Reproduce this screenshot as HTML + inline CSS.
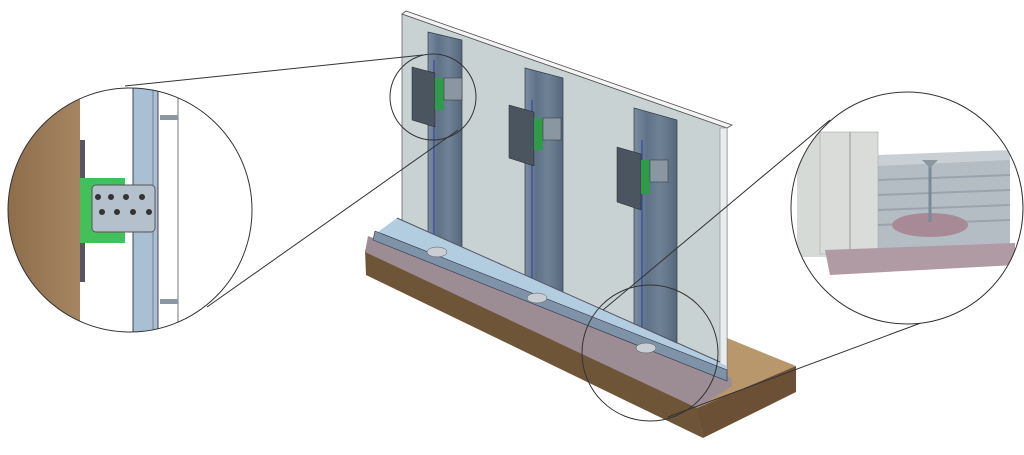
<!DOCTYPE html>
<html><head><meta charset="utf-8"><style>
html,body{margin:0;padding:0;background:#fff;width:1024px;height:455px;overflow:hidden}
</style></head><body>
<svg width="1024" height="455" viewBox="0 0 1024 455" xmlns="http://www.w3.org/2000/svg">
<defs>
<linearGradient id="wood" x1="0" y1="0" x2="1" y2="0"><stop offset="0" stop-color="#8a6a48"/><stop offset="1" stop-color="#a58562"/></linearGradient>
<linearGradient id="stud" x1="0" y1="0" x2="1" y2="0"><stop offset="0" stop-color="#7a8da2"/><stop offset=".3" stop-color="#5f7287"/><stop offset=".6" stop-color="#6f8297"/><stop offset="1" stop-color="#55687b"/></linearGradient>
<clipPath id="cl"><circle cx="130" cy="210" r="122"/></clipPath>
<clipPath id="cr"><circle cx="907" cy="208" r="116"/></clipPath>
</defs>
<!-- base board -->
<polygon points="727,338 796,366 697,408 720,380" fill="#b8976c"/>
<polygon points="697,408 796,366 796,392 703,438" fill="#6c5036"/>
<polygon points="365,250 697,406 703,438 366,275" fill="#6f5538"/>
<!-- felt -->
<polygon points="368,236 732,378 732,386 697,408 365,252" fill="#9c8c94"/>
<!-- panel -->
<polygon points="402,14 727,128 727,378 402,222" fill="#c8d2d2" stroke="#666" stroke-width=".8"/>
<polygon points="402,14 406,11 732,125 727,128" fill="#f4f4f4" stroke="#555" stroke-width=".8"/>
<polygon points="720,128 727,128 727,378 720,374" fill="#e8ecec" stroke="#888" stroke-width=".6"/>
<!-- studs -->
<g fill="url(#stud)" stroke="#2e3a48" stroke-width=".7">
<polygon points="428,32 462,40 462,266 428,256"/>
<polygon points="525,68 563,78 563,310 525,298"/>
<polygon points="634,108 677,120 677,356 634,342"/>
</g>
<g stroke="#2a3fa0" stroke-width="1"><line x1="434" y1="60" x2="434" y2="258"/><line x1="532" y1="100" x2="532" y2="300"/><line x1="642" y1="140" x2="642" y2="344"/></g>
<!-- track -->
<polygon points="397,218 727,366 727,376 378,232" fill="#b3cde0"/>
<polygon points="375,231 727,370 727,381 373,240" fill="#7e93a8" stroke="#334" stroke-width=".6"/>
<line x1="397" y1="218" x2="720" y2="362" stroke="#556" stroke-width="1"/>
<!-- base plates -->
<g fill="#c8ced4" stroke="#555" stroke-width=".5"><ellipse cx="437" cy="252" rx="10" ry="5"/><ellipse cx="537" cy="298" rx="10" ry="5"/><ellipse cx="646" cy="348" rx="10" ry="5"/></g>
<!-- brackets -->
<g fill="#4a5560" stroke="#222" stroke-width=".5">
<polygon points="412,67 435,73 435,127 412,120"/>
<polygon points="509,105 534,112 534,166 509,158"/>
<polygon points="617,147 641,154 641,210 617,202"/>
</g>
<g fill="#2f9a4a"><rect x="435" y="78" width="9" height="32"/><rect x="534" y="118" width="9" height="32"/><rect x="641" y="160" width="9" height="34"/></g>
<g fill="#8a96a2" stroke="#333" stroke-width=".5"><rect x="444" y="78" width="18" height="22"/><rect x="543" y="118" width="18" height="22"/><rect x="650" y="160" width="18" height="22"/></g>
<!-- small circles -->
<circle cx="433" cy="97" r="43" fill="none" stroke="#333" stroke-width="1"/>
<circle cx="650" cy="353" r="68" fill="none" stroke="#333" stroke-width="1"/>
<!-- connector lines -->
<line x1="125" y1="86" x2="423" y2="55" stroke="#333"/>
<line x1="207" y1="307" x2="458" y2="130" stroke="#333"/>
<line x1="830" y1="120" x2="603" y2="310" stroke="#333"/>
<line x1="937" y1="317" x2="668" y2="417" stroke="#333"/>
<!-- left circle -->
<g clip-path="url(#cl)">
<rect x="0" y="80" width="260" height="260" fill="#fff"/>
<rect x="0" y="80" width="80" height="260" fill="url(#wood)"/>
<rect x="80" y="140" width="5" height="142" fill="#556"/>
<rect x="133" y="80" width="25" height="260" fill="#a9c0d4" stroke="#445" stroke-width="1"/>
<line x1="153" y1="80" x2="153" y2="340" stroke="#556" stroke-width=".6"/>
<line x1="178" y1="80" x2="178" y2="340" stroke="#777"/>
<rect x="80" y="178" width="45" height="65" fill="#43c05a"/>
<rect x="92" y="185" width="63" height="47" rx="4" fill="#b4c0cc" stroke="#555"/>
<g fill="#333"><circle cx="98" cy="197" r="3"/><circle cx="111" cy="197" r="3"/><circle cx="126" cy="197" r="3"/><circle cx="142" cy="197" r="3"/><circle cx="102" cy="212" r="3"/><circle cx="117" cy="212" r="3"/><circle cx="133" cy="212" r="3"/><circle cx="149" cy="212" r="3"/></g>
<rect x="160" y="115" width="18" height="5" fill="#8a96a4"/><rect x="160" y="299" width="18" height="5" fill="#8a96a4"/>
</g>
<circle cx="130" cy="210" r="122" fill="none" stroke="#333" stroke-width="1"/>
<!-- right circle -->
<g clip-path="url(#cr)">
<rect x="790" y="90" width="235" height="240" fill="#fff"/>
<polygon points="878,165 1010,158 1010,245 878,250" fill="#b4bcc4"/>
<g stroke="#9aa4ae" stroke-width="2"><line x1="878" y1="180" x2="1010" y2="175"/><line x1="878" y1="195" x2="1010" y2="190"/><line x1="878" y1="210" x2="1010" y2="205"/><line x1="878" y1="225" x2="1010" y2="220"/></g>
<polygon points="878,155 1010,150 1010,160 878,166" fill="#c8d0d6"/>
<rect x="797" y="132" width="42" height="125" fill="#d6dad6"/>
<rect x="820" y="132" width="58" height="122" fill="#d9dcd8" stroke="#aaa" stroke-width=".6"/>
<line x1="850" y1="132" x2="850" y2="254" stroke="#999"/>
<ellipse cx="930" cy="225" rx="38" ry="12" fill="#a88a96"/>
<polygon points="825,250 1015,243 1015,265 830,275" fill="#b09aa4"/>
<line x1="930" y1="160" x2="930" y2="222" stroke="#7a8a96" stroke-width="3"/>
<polygon points="922,160 938,160 930,168" fill="#8a96a0"/>
</g>
<circle cx="907" cy="208" r="116" fill="none" stroke="#333" stroke-width="1"/>
</svg>
</body></html>
